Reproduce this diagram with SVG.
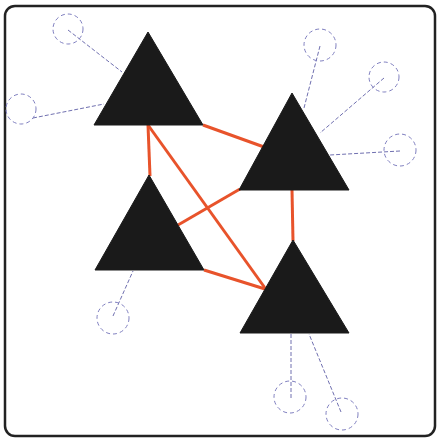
<svg xmlns="http://www.w3.org/2000/svg" width="437" height="439" viewBox="0 0 437 439">
<style>
.frame{fill:#fff;stroke:#222;stroke-width:2.5}
.tri{fill:#1a1a1a;stroke:#1a1a1a;stroke-width:1}
.red{stroke:#e8532b;stroke-width:3;fill:none}
.blue{stroke:#7070b0;stroke-width:1;stroke-dasharray:4 2;fill:none}
.circ{stroke:#8080c0;stroke-width:1;stroke-dasharray:4 3;fill:none}
</style>
<rect class="frame" x="5" y="6" width="430" height="430" rx="10"/>
<g id="connectors">
<line class="red" x1="203" y1="125" x2="264" y2="147"/>
<line class="red" x1="148" y1="125" x2="150" y2="176"/>
<line class="red" x1="148" y1="125" x2="265" y2="288"/>
<line class="red" x1="178" y1="225" x2="240" y2="189"/>
<line class="red" x1="204" y1="270" x2="265" y2="289"/>
<line class="red" x1="292" y1="190" x2="293" y2="241"/>
<line class="blue" x1="68" y1="30" x2="122" y2="72"/>
<line class="blue" x1="33" y1="118" x2="104" y2="104"/>
<line class="blue" x1="320" y1="46" x2="304" y2="108"/>
<line class="blue" x1="384" y1="78" x2="320" y2="133"/>
<line class="blue" x1="400" y1="151" x2="330" y2="155"/>
<line class="blue" x1="113" y1="316" x2="133" y2="271"/>
<line class="blue" x1="291" y1="398" x2="291" y2="334"/>
<line class="blue" x1="341" y1="412" x2="309" y2="334"/>
</g>
<g id="t1"><polygon class="tri" points="148,32 94,125 203,125"/></g>
<g id="t2"><polygon class="tri" points="292,93 239,190 349,190"/></g>
<g id="t3"><polygon class="tri" points="149,175 95,270 204,270"/></g>
<g id="t4"><polygon class="tri" points="293,240 240,333 349,333"/></g>
<g id="c1"><circle class="circ" cx="68" cy="29" r="15"/></g>
<g id="c2"><circle class="circ" cx="21" cy="109" r="15"/></g>
<g id="c3"><circle class="circ" cx="320" cy="45" r="16"/></g>
<g id="c4"><circle class="circ" cx="384" cy="77" r="15"/></g>
<g id="c5"><circle class="circ" cx="400" cy="150" r="16"/></g>
<g id="c6"><circle class="circ" cx="113" cy="318" r="16"/></g>
<g id="c7"><circle class="circ" cx="290" cy="397" r="16"/></g>
<g id="c8"><circle class="circ" cx="342" cy="414" r="16"/></g>
</svg>
